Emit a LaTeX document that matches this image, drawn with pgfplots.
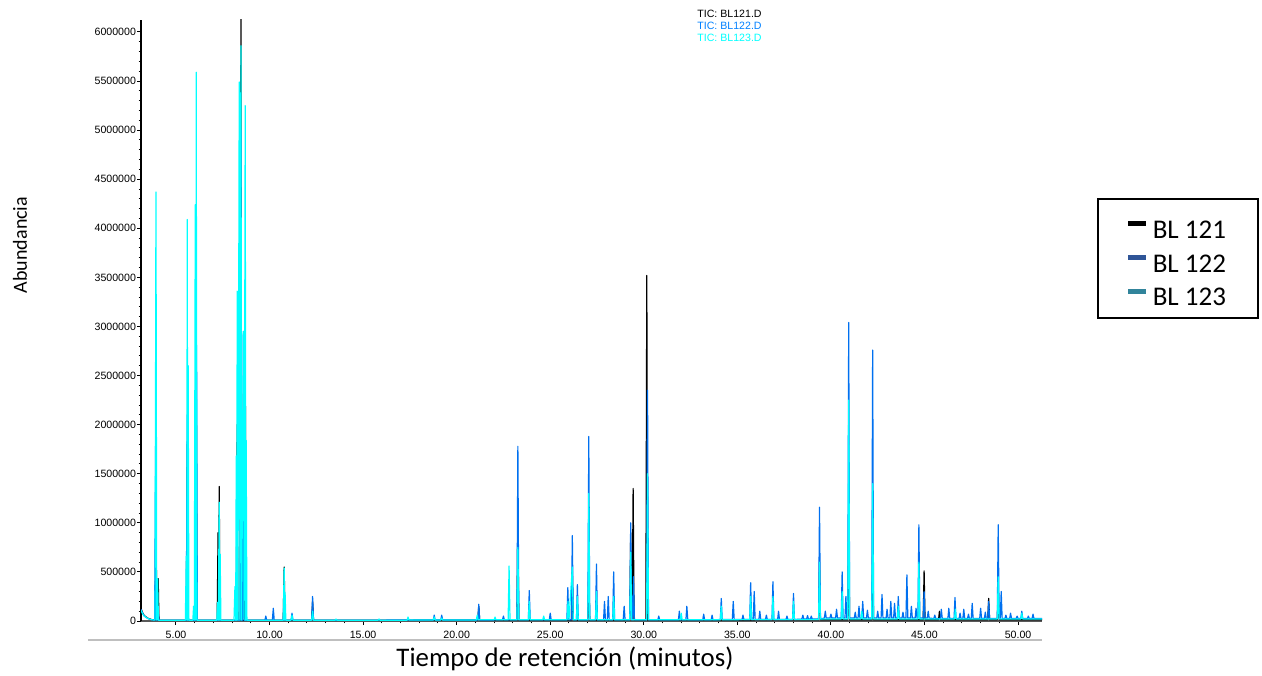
\documentclass[border=0pt]{standalone}
\usepackage{pgfplots}
\pgfplotsset{compat=1.18}
\usepackage{fontspec}
\setmainfont{Carlito}
\newfontfamily\arial{Liberation Sans}
\definecolor{trA}{RGB}{0,0,0}
\definecolor{trB}{RGB}{0,112,240}
\definecolor{trC}{RGB}{0,255,255}
\definecolor{legB}{RGB}{47,85,151}
\definecolor{legC}{RGB}{49,132,155}
\definecolor{ticB}{RGB}{0,128,255}
% strut that lifts the legend rows
\newcommand{\lstrut}{\rule{0pt}{15.2pt}}

\begin{document}
\begin{tikzpicture}[x=1pt,y=1pt]
\useasboundingbox (0,0) rectangle (631,337.5);
\begin{axis}[
  at={(70.5pt,27pt)}, anchor=south west,
  scale only axis, width=450.5pt, height=300.5pt,
  xmin=3.13, xmax=51.28, ymin=0, ymax=6122000,
  axis x line*=bottom, axis y line*=left,
  x axis line style={-, draw=black!65, line width=1pt},
  y axis line style={-, draw=black, line width=0.75pt},
  tick align=outside,
  major tick length=2pt, minor tick length=1.2pt,
  every tick/.style={black, line width=0.5pt},
  xtick={5,10,15,20,25,30,35,40,45,50},
  xticklabels={5.00,10.00,15.00,20.00,25.00,30.00,35.00,40.00,45.00,50.00},
  ytick={0,500000,1000000,1500000,2000000,2500000,3000000,3500000,4000000,4500000,5000000,5500000,6000000},
  yticklabels={0,500000,1000000,1500000,2000000,2500000,3000000,3500000,4000000,4500000,5000000,5500000,6000000},
  minor x tick num=4, minor y tick num=4,
  scaled y ticks=false,
  tick label style={font=\arial\fontsize{5.3}{6}\selectfont},
  yticklabel style={xshift=3pt},
  xticklabel style={yshift=0.5pt},
  legend style={at={(1.0611,0.7038)}, anchor=north west, draw=black,
    line width=0.75pt, font=\fontsize{13.5}{16}\selectfont,
    inner xsep=14pt, inner ysep=2.5pt, row sep=-3.75pt, cells={anchor=west}},
  legend image code/.code={\draw[#1, line width=2.5pt] (0pt,0.5pt) -- (9pt,0.5pt);},
  every axis plot/.append style={line width=0.6pt, line join=round},
]
\addlegendimage{black}
\addlegendimage{legB}
\addlegendimage{legC}

% BL 121
\addplot[trA] coordinates {
(3.13,130000)(3.2,90000)(3.3,55000)(3.5,28000)(3.7,14000)(3.88,10000)(3.93,1200000)(3.97,10000)(4.01,10000)(4.05,430000)(4.09,8000)
(5.55,8000)(5.6,1800000)(5.65,8000)
(6.03,8000)(6.08,2700000)(6.12,8000)
(7.2,8000)(7.25,900000)(7.28,8000)(7.31,1370000)(7.35,8000)
(8.22,8000)(8.27,2000000)(8.31,8000)
(8.43,8000)(8.47,6300000)(8.51,8000)
(8.66,8000)(8.7,2830000)(8.74,8000)
(10.73,8000)(10.78,550000)(10.83,8000)
(12.25,8000)(12.3,200000)(12.35,8000)
(21.13,10000)(21.18,150000)(21.23,10000)
(23.22,10000)(23.27,1030000)(23.32,10000)
(26.13,10000)(26.18,500000)(26.23,10000)
(27.01,10000)(27.06,500000)(27.11,10000)
(29.25,10000)(29.3,900000)(29.35,10000)(29.38,10000)(29.43,1350000)(29.48,10000)
(30.11,10000)(30.16,3520000)(30.21,10000)
(39.34,12000)(39.39,600000)(39.44,12000)
(40.9,12000)(40.95,900000)(41.0,12000)
(42.18,12000)(42.23,700000)(42.28,12000)
(44.93,12000)(44.98,510000)(45.03,12000)
(45.75,12000)(45.8,100000)(45.85,12000)
(48.38,12000)(48.43,230000)(48.48,12000)
(48.89,12000)(48.94,300000)(48.99,12000)
(51.28,12000)
};

% BL 122
\addplot[trB] coordinates {
(3.13,120000)(3.2,85000)(3.3,52000)(3.5,26000)(3.7,13000)(3.86,10000)(3.91,1780000)(3.95,10000)(4.01,10000)(4.05,150000)(4.09,8000)
(5.55,8000)(5.6,2100000)(5.65,8000)
(6.05,8000)(6.1,2810000)(6.14,8000)
(7.27,8000)(7.31,700000)(7.35,8000)
(8.22,8000)(8.27,900000)(8.31,8000)(8.43,8000)(8.47,5000000)(8.51,8000)(8.56,8000)(8.6,2950000)(8.64,8000)
(9.75,8000)(9.8,50000)(9.85,8000)
(10.15,8000)(10.2,130000)(10.25,8000)
(10.73,8000)(10.78,300000)(10.83,8000)
(11.15,8000)(11.2,80000)(11.25,8000)
(12.25,8000)(12.3,250000)(12.35,8000)
(18.75,10000)(18.8,60000)(18.85,10000)
(19.15,10000)(19.2,60000)(19.25,10000)
(21.13,10000)(21.18,170000)(21.23,10000)
(22.45,12000)(22.5,50000)(22.55,12000)
(23.22,12000)(23.27,1780000)(23.32,12000)
(23.83,12000)(23.88,310000)(23.93,12000)
(24.95,12000)(25.0,80000)(25.05,12000)
(25.89,12000)(25.94,340000)(25.99,12000)
(26.13,12000)(26.18,870000)(26.23,12000)
(26.4,12000)(26.45,370000)(26.5,12000)
(27.01,12000)(27.06,1880000)(27.11,12000)
(27.42,12000)(27.47,580000)(27.52,12000)
(27.85,12000)(27.9,200000)(27.95,12000)
(28.05,12000)(28.1,250000)(28.15,12000)
(28.34,12000)(28.39,500000)(28.44,12000)
(28.9,12000)(28.95,150000)(29.0,12000)
(29.25,12000)(29.3,1000000)(29.35,12000)(29.4,12000)(29.45,450000)(29.5,12000)
(30.15,12000)(30.2,2350000)(30.25,12000)
(30.75,12000)(30.8,50000)(30.85,12000)
(31.85,12000)(31.9,100000)(31.95,12000)
(32.25,12000)(32.3,150000)(32.35,12000)
(33.15,12000)(33.2,70000)(33.25,12000)
(33.6,12000)(33.65,60000)(33.7,12000)
(34.09,15000)(34.14,230000)(34.19,15000)
(34.73,15000)(34.78,200000)(34.83,15000)
(35.25,15000)(35.3,60000)(35.35,15000)
(35.66,15000)(35.71,390000)(35.76,15000)
(35.85,15000)(35.9,300000)(35.95,15000)
(36.15,15000)(36.2,100000)(36.25,15000)
(36.5,15000)(36.55,60000)(36.6,15000)
(36.85,15000)(36.9,400000)(36.95,15000)
(37.15,15000)(37.2,100000)(37.25,15000)
(37.6,15000)(37.65,50000)(37.7,15000)
(37.95,15000)(38.0,280000)(38.05,15000)
(38.45,20000)(38.5,60000)(38.55,20000)
(38.7,20000)(38.75,55000)(38.8,20000)
(38.9,20000)(38.95,50000)(39.0,20000)
(39.34,20000)(39.39,1160000)(39.44,20000)
(39.65,30000)(39.7,100000)(39.75,30000)
(39.95,30000)(40.0,70000)(40.05,30000)
(40.25,30000)(40.3,120000)(40.35,30000)
(40.55,30000)(40.6,500000)(40.65,30000)
(40.75,30000)(40.8,250000)(40.85,30000)
(40.9,30000)(40.95,3040000)(41.0,30000)
(41.25,30000)(41.3,90000)(41.35,30000)
(41.45,30000)(41.5,150000)(41.55,30000)
(41.65,30000)(41.7,200000)(41.75,30000)
(41.9,30000)(41.95,110000)(42.0,30000)
(42.18,30000)(42.23,2760000)(42.28,30000)
(42.45,30000)(42.5,100000)(42.55,30000)
(42.68,30000)(42.73,270000)(42.78,30000)
(42.95,30000)(43.0,120000)(43.05,30000)
(43.15,30000)(43.2,200000)(43.25,30000)
(43.35,30000)(43.4,180000)(43.45,30000)
(43.55,30000)(43.6,250000)(43.65,30000)
(43.8,30000)(43.85,90000)(43.9,30000)
(44.01,30000)(44.06,470000)(44.11,30000)
(44.25,30000)(44.3,150000)(44.35,30000)
(44.5,30000)(44.55,130000)(44.6,30000)
(44.65,30000)(44.7,980000)(44.75,30000)
(44.93,30000)(44.98,300000)(45.03,30000)
(45.15,30000)(45.2,100000)(45.25,30000)
(45.5,25000)(45.55,60000)(45.6,25000)
(45.85,25000)(45.9,120000)(45.95,25000)
(46.25,25000)(46.3,130000)(46.35,25000)
(46.58,25000)(46.63,240000)(46.68,25000)
(46.85,25000)(46.9,80000)(46.95,25000)
(47.05,25000)(47.1,120000)(47.15,25000)
(47.3,25000)(47.35,70000)(47.4,25000)
(47.5,25000)(47.55,180000)(47.6,25000)
(47.95,25000)(48.0,130000)(48.05,25000)
(48.2,25000)(48.25,90000)(48.3,25000)
(48.38,25000)(48.43,200000)(48.48,25000)
(48.89,25000)(48.94,980000)(48.99,25000)(49.05,25000)(49.1,300000)(49.15,25000)
(49.3,25000)(49.35,60000)(49.4,25000)
(49.55,25000)(49.6,80000)(49.65,25000)
(49.9,25000)(49.95,50000)(50.0,25000)
(50.15,25000)(50.2,100000)(50.25,25000)
(50.5,25000)(50.55,50000)(50.6,25000)
(50.75,25000)(50.8,70000)(50.85,25000)
(51.28,25000)
};

% BL 123
\addplot[trC] coordinates {
(3.13,110000)(3.2,80000)(3.3,50000)(3.5,25000)(3.7,12000)(3.88,10000)(3.93,4370000)(3.97,10000)(3.99,10000)(4.02,430000)(4.06,8000)
(5.5,8000)(5.55,660000)(5.58,8000)(5.6,4090000)(5.63,8000)(5.65,2600000)(5.69,8000)
(5.9,8000)(5.94,150000)(5.98,8000)(6.03,4240000)(6.06,8000)(6.08,5590000)(6.12,8000)
(7.18,8000)(7.22,190000)(7.26,8000)(7.31,1210000)(7.34,8000)(7.36,680000)(7.40,8000)
(8.1,8000)(8.15,350000)(8.19,8000)(8.22,1680000)(8.25,8000)(8.27,3360000)(8.31,8000)(8.38,5490000)(8.42,8000)(8.47,5860000)(8.51,8000)(8.6,2950000)(8.64,8000)(8.7,5250000)(8.73,8000)(8.75,1840000)(8.79,8000)
(10.73,8000)(10.78,540000)(10.81,8000)(10.83,290000)(10.87,8000)
(11.15,8000)(11.2,60000)(11.25,8000)
(12.25,8000)(12.3,100000)(12.35,8000)
(13.5,8000)(13.55,20000)(13.6,8000)
(15.8,8000)(15.85,20000)(15.9,8000)
(17.35,8000)(17.4,40000)(17.45,10000)
(18.75,10000)(18.8,40000)(18.85,10000)
(19.15,10000)(19.2,30000)(19.25,10000)
(21.05,10000)(21.1,60000)(21.15,12000)
(22.0,12000)(22.05,40000)(22.1,12000)
(22.75,12000)(22.8,560000)(22.85,12000)
(23.22,12000)(23.27,750000)(23.32,12000)
(23.83,12000)(23.88,200000)(23.93,12000)
(24.6,12000)(24.65,50000)(24.7,12000)
(25.9,12000)(25.95,200000)(26.0,12000)(26.18,550000)(26.23,12000)(26.4,12000)(26.45,250000)(26.5,12000)
(27.01,12000)(27.06,1300000)(27.11,12000)(27.42,12000)(27.47,300000)(27.52,12000)
(28.34,12000)(28.39,250000)(28.44,12000)
(29.25,12000)(29.3,700000)(29.35,12000)
(30.15,12000)(30.2,1500000)(30.25,12000)
(31.95,12000)(32.0,80000)(32.05,12000)
(34.09,12000)(34.14,150000)(34.19,12000)
(35.66,15000)(35.71,250000)(35.76,15000)
(36.85,15000)(36.9,250000)(36.95,15000)
(37.95,15000)(38.0,200000)(38.05,15000)
(39.34,15000)(39.39,600000)(39.44,20000)
(40.55,20000)(40.6,300000)(40.65,20000)
(40.9,20000)(40.95,2250000)(41.0,20000)
(41.6,20000)(41.65,100000)(41.7,20000)
(42.18,20000)(42.23,1400000)(42.28,20000)
(43.55,20000)(43.6,150000)(43.65,20000)
(44.65,20000)(44.7,600000)(44.75,20000)
(46.6,20000)(46.65,120000)(46.7,20000)
(48.89,20000)(48.94,450000)(48.99,20000)
(50.15,20000)(50.2,80000)(50.25,20000)
(51.28,20000)
};
\legend{\lstrut BL 121, \lstrut BL 122, \lstrut BL 123}
\end{axis}

% separator under the time axis
\draw[black!25, line width=1pt] (44,17.5) -- (521,17.5);

% trace identifiers
\node[anchor=base west, inner sep=0, font=\arial\fontsize{5.3}{6}\selectfont, text=black] at (348.5,328.7) {TIC: BL121.D};
\node[anchor=base west, inner sep=0, font=\arial\fontsize{5.3}{6}\selectfont, text=ticB] at (348.5,322.7) {TIC: BL122.D};
\node[anchor=base west, inner sep=0, font=\arial\fontsize{5.3}{6}\selectfont, text=trC] at (348.5,316.7) {TIC: BL123.D};

% axis titles
\node[rotate=90, font=\fontsize{10}{12}\selectfont] at (10,215) {Abundancia};
\node[anchor=base, font=\fontsize{13.4}{16}\selectfont] at (282.5,4.5) {Tiempo de retención (minutos)};
\end{tikzpicture}
\end{document}
